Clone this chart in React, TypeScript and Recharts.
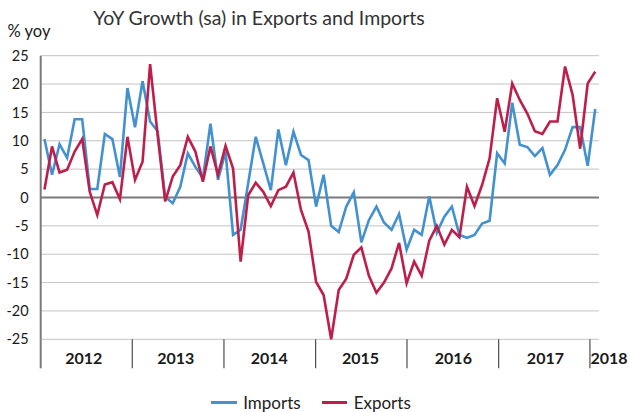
import React from 'react';
import { LineChart, Line, XAxis, YAxis, CartesianGrid, ReferenceLine, Legend } from 'recharts';

// Tick labels (years) for the category axis
const years = ['2012', '2013', '2014', '2015', '2016', '2017', '2018'];

// Monthly YoY growth, Jan 2012 .. Feb 2018 (74 months)
const importsYoy = [
  10.3, 4.0, 9.4, 7.0, 13.8, 13.8, 1.5, 1.5, 11.2, 10.3, 3.6, 19.3,
  12.4, 20.5, 13.4, 11.7, 0.1, -1.0, 1.9, 7.8, 5.4, 3.4, 13.0, 3.1,
  8.1, -6.6, -5.7, 2.5, 10.7, 6.0, 1.3, 12.0, 5.7, 11.6, 7.5, 6.6,
  -1.6, 4.0, -5.0, -6.1, -1.6, 0.9, -7.9, -4.0, -1.6, -4.4, -5.7, -2.9,
  -9.2, -5.7, -6.6, 0.2, -6.2, -3.4, -1.6, -6.6, -7.1, -6.6, -4.6, -4.1,
  7.8, 6.0, 16.7, 9.3, 8.9, 7.3, 8.7, 4.0, 5.7, 8.4, 12.4, 12.4,
  5.6, 15.6,
];
const exportsYoy = [
  1.4, 9.0, 4.4, 4.9, 8.1, 10.3, 1.0, -3.1, 2.3, 2.7, -0.3, 10.7,
  3.1, 6.3, 23.5, 11.0, -0.7, 3.7, 5.7, 10.7, 8.1, 2.8, 9.0, 4.0,
  9.1, 5.1, -11.3, 0.4, 2.6, 1.0, -1.5, 1.3, 1.9, 4.4, -2.2, -6.0,
  -14.9, -17.2, -25.0, -16.3, -14.3, -10.1, -8.8, -13.8, -16.8, -15.0, -12.5, -8.0,
  -15.1, -11.3, -13.8, -7.6, -5.0, -8.3, -5.7, -7.0, 1.9, -1.5, 2.2, 6.9,
  17.5, 11.6, 20.1, 17.2, 14.8, 11.7, 11.2, 13.4, 13.4, 23.1, 18.1, 8.6,
  20.1, 22.2,
];

const yTicks = [-25, -20, -15, -10, -5, 0, 5, 10, 15, 20, 25];
// axis tick positions, in month-index units
const yearSeparators = [-0.5, 11.64, 23.79, 35.94, 48.05, 60.2, 72.3];
const yearLabelPos = [5.2, 17.4, 29.8, 41.9, 54.2, 66.4, 72.36];

const data = importsYoy.map((v, i) => ({ i, imports: v, exports: exportsYoy[i] }));
const xTicks = [...yearSeparators, ...yearLabelPos].sort((a, b) => a - b);

const BLUE = '#4391d0';
const RED = '#be1f4a';
const FONT = 'Lato, "Open Sans", sans-serif';

const XTick = (props: any) => {
  const { x, y, payload } = props;
  const v = payload.value;
  const si = yearSeparators.indexOf(v);
  if (si >= 0) {
    const isAxis = si === 0;
    return (
      <line
        x1={x}
        x2={x}
        y1={y}
        y2={y + 29}
        stroke={isAxis ? '#7a7a7a' : '#4d4d4d'}
        strokeWidth={isAxis ? 2 : 1.2}
      />
    );
  }
  const li = yearLabelPos.indexOf(v);
  if (li < 0) return null;
  const last = li === years.length - 1;
  return (
    <text
      x={x}
      y={y + 25}
      textAnchor={last ? 'start' : 'middle'}
      fontFamily={FONT}
      fontWeight={700}
      fontSize={16}
      fill="#1a1a1a"
    >
      {years[li]}
    </text>
  );
};

const LegendContent = () => (
  <div
    style={{
      display: 'flex',
      justifyContent: 'center',
      alignItems: 'center',
      height: 20,
      fontFamily: FONT,
      fontSize: 17,
      color: '#222',
    }}
  >
    <span style={{ display: 'inline-block', width: 26, height: 3, background: BLUE, marginRight: 6 }} />
    <span style={{ marginRight: 21 }}>Imports</span>
    <span style={{ display: 'inline-block', width: 25, height: 3, background: RED, marginRight: 7 }} />
    <span>Exports</span>
  </div>
);

export default function App() {
  return (
    <div style={{ position: 'absolute', left: 0, top: 0, width: 630, height: 412, background: '#fff' }}>
      <LineChart
        width={630}
        height={412}
        data={data}
        margin={{ top: 55.7, right: 31, left: 0, bottom: 42.7 }}
      >
        <CartesianGrid vertical={false} stroke="#c4c4c4" strokeWidth={1} />
        <XAxis
          dataKey="i"
          type="number"
          domain={[-0.5, 73.5]}
          ticks={xTicks}
          interval={0}
          axisLine={false}
          tickLine={false}
          tickSize={0}
          tickMargin={0}
          height={30}
          tick={(p: any) => <XTick {...p} />}
        />
        <YAxis
          type="number"
          domain={[-25, 25]}
          ticks={yTicks}
          interval={0}
          width={40.7}
          axisLine={{ stroke: '#7a7a7a', strokeWidth: 2 }}
          tickLine={false}
          tickSize={0}
          tickMargin={12}
          tick={{ fontFamily: FONT, fontSize: 14.5, fill: '#1a1a1a' }}
        />
        <ReferenceLine y={0} stroke="#7a7a7a" strokeWidth={2} />
        <Line
          type="linear"
          dataKey="imports"
          name="Imports"
          stroke={BLUE}
          strokeWidth={2.6}
          dot={false}
          activeDot={false}
          isAnimationActive={false}
        />
        <Line
          type="linear"
          dataKey="exports"
          name="Exports"
          stroke={RED}
          strokeWidth={2.6}
          dot={false}
          activeDot={false}
          isAnimationActive={false}
        />
        <Legend
          layout="horizontal"
          verticalAlign="middle"
          align="center"
          content={() => <LegendContent />}
          wrapperStyle={{ top: 392, left: -4, width: 630 }}
        />
      </LineChart>
      <svg
        width={630}
        height={60}
        style={{ position: 'absolute', left: 0, top: 0, pointerEvents: 'none' }}
      >
        <text x={259} y={25} textAnchor="middle" fontFamily={FONT} fontSize={19.5} fill="#333">
          YoY Growth (sa) in Exports and Imports
        </text>
        <text x={7.5} y={36.5} textAnchor="start" fontFamily={FONT} fontSize={16.5} fill="#1a1a1a">
          % yoy
        </text>
      </svg>
    </div>
  );
}
